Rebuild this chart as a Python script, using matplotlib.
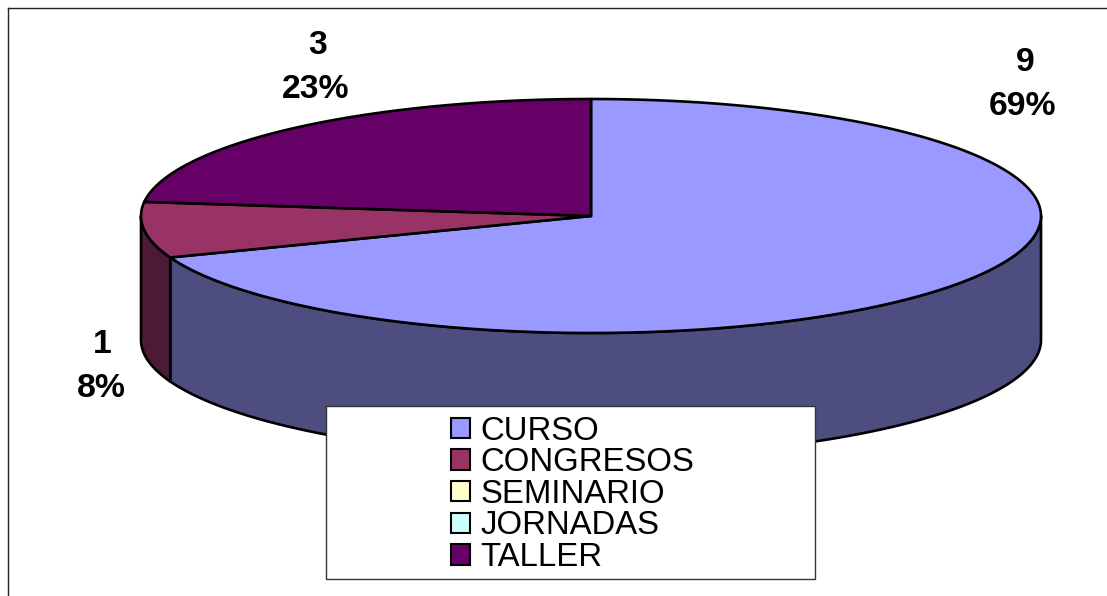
import numpy as np
import matplotlib
matplotlib.use("Agg")
import matplotlib.pyplot as plt
from matplotlib.patches import Polygon, Rectangle, Patch

categories = ["CURSO", "CONGRESOS", "SEMINARIO", "JORNADAS", "TALLER"]
values = [9, 1, 0, 0, 3]
top_colors = ["#9999FF", "#993366", "#FFFFCC", "#CCFFFF", "#660066"]
side_colors = ["#4D4D80", "#4D1A33", "#808066", "#668080", "#330033"]
percent_labels = ["69%", "8%", "0%", "0%", "23%"]

W, H = 1107, 596
CX, CY, RX, RY, DEPTH = 591, 216, 450, 117, 124
LW = 1.9

plt.rcParams["font.family"] = ["Liberation Sans", "DejaVu Sans"]
fig = plt.figure(figsize=(W / 100, H / 100), dpi=100, facecolor="white")
ax = fig.add_axes([0, 0, 1, 1])
ax.set_xlim(0, W)
ax.set_ylim(H, 0)
ax.axis("off")


def arc(a, b, dy=0.0):
    t = np.radians(np.linspace(a, b, max(int(abs(b - a) * 2), 2)))
    return np.column_stack([CX + RX * np.sin(t), CY - RY * np.cos(t) + dy])


shares = np.array(values, dtype=float) / sum(values)
edges = np.concatenate([[0], np.cumsum(shares) * 360])

# outer frame of the chart area (right and bottom fall outside the picture)
ax.plot([7.5, 7.5], [H + 5, 7.5], color="#222222", lw=1.0, zorder=1)
ax.plot([7.5, W + 5], [7.5, 7.5], color="#222222", lw=1.0, zorder=1)

# side walls
for i, v in enumerate(values):
    a, b = edges[i], edges[i + 1]
    lo, hi = max(a, 90), min(b, 270)
    if v == 0 or hi <= lo:
        continue
    pts = np.vstack([arc(lo, hi), arc(hi, lo, DEPTH)])
    ax.add_patch(Polygon(pts, closed=True, facecolor=side_colors[i],
                         edgecolor="black", lw=LW, joinstyle="round", zorder=2))

# top faces
for i, v in enumerate(values):
    if v == 0:
        continue
    pts = np.vstack([[[CX, CY]], arc(edges[i], edges[i + 1])])
    ax.add_patch(Polygon(pts, closed=True, facecolor=top_colors[i],
                         edgecolor="black", lw=LW, joinstyle="round", zorder=3))

# data labels: value on top, percentage under it
label_pos = {0: ((1025, 59), (1022.5, 103)),
             1: ((102, 341), (101, 385)),
             4: ((318, 42), (316, 86))}
for i, (p_val, p_pct) in label_pos.items():
    ax.text(*p_val, str(values[i]), fontsize=24.3, fontweight="bold",
            ha="center", va="center_baseline", color="black", zorder=5)
    ax.text(*p_pct, percent_labels[i], fontsize=24.3, fontweight="bold",
            ha="center", va="center_baseline", color="black", zorder=5)

# legend box
ax.add_patch(Rectangle((326, 405.5), 489, 173.5, facecolor="white",
                       edgecolor="#333333", lw=1.0, zorder=6))
handles = [Patch(facecolor=c, edgecolor="black", lw=1.5, label=n)
           for c, n in zip(top_colors, categories)]
leg = ax.legend(handles=handles, loc="upper left",
                bbox_to_anchor=(451, 415.5), bbox_transform=ax.transData,
                frameon=False, fontsize=23.7, borderpad=0, borderaxespad=0,
                handlelength=0.57, handleheight=0.57, handletextpad=0.33,
                labelspacing=0.02)
leg.set_zorder(7)

fig.savefig("out.png", dpi=100, facecolor="white")
